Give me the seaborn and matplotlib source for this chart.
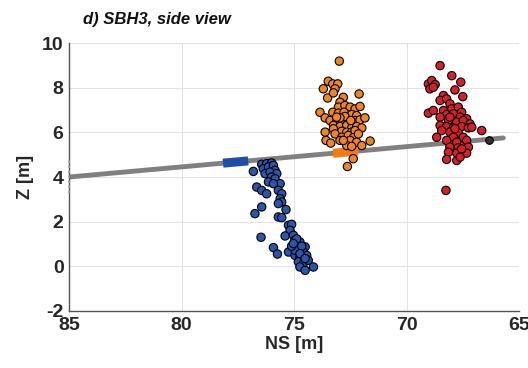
import numpy as np
import pandas as pd
import matplotlib
matplotlib.use("Agg")
import matplotlib.pyplot as plt
import seaborn as sns

# ---- data ----
blue_ns = [76.44, 76.22, 76.00, 76.37, 76.14, 75.92, 75.85, 76.81, 76.29, 76.07, 75.77, 76.00,
           75.85, 76.14, 75.62, 75.92, 76.66, 76.44, 76.22, 75.70, 75.55, 75.62, 75.55, 75.70,
           75.36, 76.74, 76.44, 75.70, 75.55, 75.25, 75.11, 75.18, 75.40, 75.03, 74.96, 74.88,
           74.74, 74.51, 76.47, 75.92, 75.74, 75.25, 74.81, 74.59, 74.96, 74.74, 74.44, 74.81,
           74.59, 74.37, 74.74, 74.51, 74.14, 74.96, 75.11, 74.66, 74.88, 74.74, 74.51, 75.03]
blue_z = [4.57, 4.60, 4.63, 4.37, 4.45, 4.52, 4.30, 4.25, 4.15, 4.22, 4.15, 4.00,
          3.92, 3.78, 3.70, 3.70, 3.55, 3.40, 3.25, 3.40, 3.25, 3.03, 2.88, 2.81,
          2.54, 2.36, 2.66, 2.21, 2.18, 1.84, 1.88, 1.61, 1.36, 1.39, 1.17, 1.02,
          1.09, 0.87, 1.30, 0.84, 0.55, 0.64, 0.79, 0.64, 0.49, 0.42, 0.49, 0.20,
          0.12, 0.27, -0.03, -0.18, -0.03, 0.72, 0.90, 0.90, 1.23, 0.57, 0.35, 1.02]

orange_ns = [72.99, 73.48, 73.28, 73.06, 73.70, 73.18, 73.51, 73.25, 72.11, 72.81, 72.96, 73.03,
             72.74, 72.51, 72.29, 72.07, 73.85, 73.62, 73.28, 73.03, 72.78, 72.44, 72.22, 73.40,
             73.11, 72.81, 72.59, 72.29, 72.07, 71.85, 73.25, 72.96, 72.66, 72.44, 72.22, 71.99,
             73.62, 73.25, 72.88, 72.66, 72.44, 72.29, 73.18, 72.88, 72.59, 72.37, 73.58, 73.37,
             72.96, 72.51, 72.22, 71.62, 71.99, 72.66, 72.44, 72.37, 72.63, 72.74, 72.96, 72.48,
             73.11, 72.14, 72.81]
orange_z = [9.19, 8.29, 8.17, 8.17, 7.95, 7.95, 7.54, 7.77, 7.72, 7.57, 7.35, 7.13,
            7.20, 7.13, 7.05, 7.16, 6.90, 6.65, 6.90, 6.86, 6.90, 6.80, 6.75, 6.53,
            6.46, 6.53, 6.46, 6.53, 6.56, 6.65, 6.31, 6.26, 6.31, 6.20, 6.26, 6.20,
            6.01, 6.16, 6.05, 6.01, 6.01, 6.08, 5.93, 5.78, 5.86, 5.76, 5.64, 5.52,
            5.64, 5.64, 5.56, 5.61, 5.41, 5.41, 5.37, 4.82, 4.47, 6.71, 6.65, 6.53,
            6.68, 5.93, 5.64]

red_ns = [68.51, 67.99, 67.59, 69.03, 68.88, 68.73, 68.96, 68.81, 67.85, 67.50, 68.36, 68.51,
          68.22, 68.07, 69.03, 68.81, 68.36, 67.99, 67.70, 67.55, 68.22, 67.92, 67.62, 67.33,
          68.51, 68.14, 67.77, 67.48, 67.18, 68.51, 68.22, 67.92, 67.55, 67.25, 67.10, 66.66,
          68.44, 68.07, 67.70, 68.66, 67.92, 67.48, 68.22, 67.77, 67.33, 68.07, 67.70, 67.25,
          68.14, 67.77, 67.33, 67.55, 68.22, 67.77, 67.62, 68.25, 68.07, 67.85]
red_z = [8.99, 8.54, 8.25, 8.17, 8.32, 8.14, 7.95, 8.02, 7.90, 7.60, 7.65, 7.43,
         7.50, 7.28, 6.86, 6.98, 6.98, 7.05, 7.13, 6.90, 6.80, 6.83, 6.68, 6.61,
         6.68, 6.53, 6.46, 6.53, 6.38, 6.31, 6.26, 6.20, 6.26, 6.20, 6.23, 6.08,
         6.08, 6.01, 5.96, 5.78, 5.78, 5.78, 5.64, 5.56, 5.64, 5.34, 5.31, 5.34,
         5.11, 5.07, 5.07, 5.26, 4.79, 4.74, 4.89, 3.40, 6.68, 6.16]

end_point_ns = [66.32]
end_point_z = [5.67]

line_ns = [85.0, 65.7]
line_z = [4.00, 5.75]

seg_blue_ns = [78.16, 77.04]
seg_orange_ns = [73.27, 72.16]
seg_red_ns = [68.30, 67.30]

groups = ["blue", "orange", "red"]
colors = {"blue": "#2a56ae", "orange": "#f0861c", "red": "#d8202b"}
seg_colors = {"blue": "#1f4ea8", "orange": "#f57b0f", "red": "#e62a2f"}

df = pd.DataFrame({
    "NS": blue_ns + orange_ns + red_ns,
    "Z": blue_z + orange_z + red_z,
    "group": ["blue"] * len(blue_ns) + ["orange"] * len(orange_ns) + ["red"] * len(red_ns),
})

sns.set_style("white")
plt.rcParams["font.family"] = ["Liberation Sans", "DejaVu Sans"]
plt.rcParams["axes.unicode_minus"] = False

fig = plt.figure(figsize=(5.28, 3.68), dpi=100)
ax = fig.add_axes([0.131, 0.155, 0.852, 0.728])

ax.grid(True, color="#e3e3e3", linewidth=0.8, zorder=0)
ax.set_axisbelow(True)

def line_z_at(ns):
    return np.interp(ns, line_ns[::-1], line_z[::-1])

sns.lineplot(x=line_ns, y=line_z, ax=ax, color="#808080", linewidth=3.5,
             sort=False, estimator=None, zorder=2)
ax.plot([85, 85], [3.3, 4.8], color="#a0a0a0", linestyle=(0, (1.5, 1.5)),
        linewidth=1.2, clip_on=False, zorder=3)

for g, seg in zip(groups, [seg_blue_ns, seg_orange_ns, seg_red_ns]):
    ax.plot(seg, line_z_at(np.array(seg)), color=seg_colors[g], linewidth=6.5,
            solid_capstyle="butt", zorder=3)

sns.scatterplot(data=df, x="NS", y="Z", hue="group", palette=colors, ax=ax,
                s=36, edgecolor="black", linewidth=0.8, legend=False, zorder=4)
ax.scatter(end_point_ns, end_point_z, s=30, color="#333333", edgecolor="black",
           linewidth=0.8, zorder=5)

ax.set_xlim(85, 65)
ax.set_ylim(-2, 10)
ax.set_xticks([85, 80, 75, 70, 65])
ax.set_yticks([-2, 0, 2, 4, 6, 8, 10])

for side in ["top", "right"]:
    ax.spines[side].set_visible(False)
for side in ["left", "bottom"]:
    ax.spines[side].set_color("#555555")
    ax.spines[side].set_linewidth(1.0)

ax.tick_params(direction="in", length=4, width=1.0, color="#555555",
               labelsize=14, labelcolor="#262626", pad=4)
for lab in ax.get_xticklabels() + ax.get_yticklabels():
    lab.set_fontweight("bold")

ax.set_xlabel("NS [m]", fontsize=13, fontweight="bold", color="#262626", labelpad=2)
ax.set_ylabel("Z [m]", fontsize=13, fontweight="bold", color="#262626", labelpad=6)

fig.text(0.157, 0.948, "d) SBH3, side view", fontsize=12, fontweight="bold",
         fontstyle="italic", color="#111111", va="center", ha="left")

fig.savefig("out.png", dpi=100)
